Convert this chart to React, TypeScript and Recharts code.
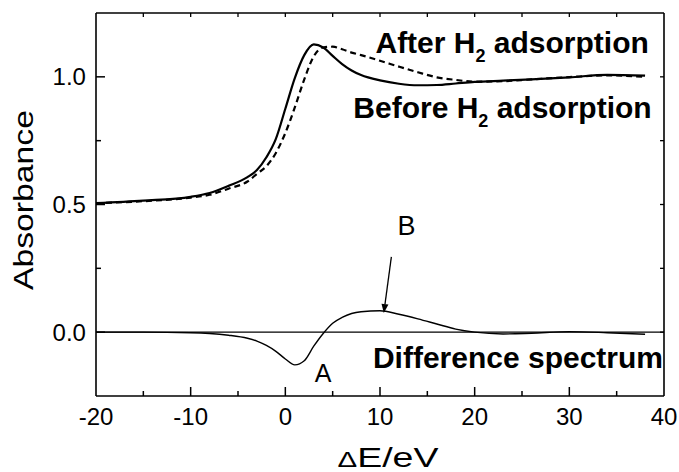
import React from 'react';
import { LineChart, Line, XAxis, YAxis, ReferenceLine, ReferenceDot } from 'recharts';

// XANES spectra, energy relative to edge (eV)
const energy = [-20, -15, -10, -8, -6, -4, -3, -2, -1, 0, 1, 2, 3, 4, 5, 6, 7, 8, 10, 12, 14, 16, 18, 20, 23, 26, 30, 34, 38];
const beforeH2 = [0.505, 0.515, 0.53, 0.545, 0.573, 0.607, 0.635, 0.685, 0.757, 0.875, 0.995, 1.085, 1.127, 1.115, 1.082, 1.05, 1.025, 1.007, 0.986, 0.973, 0.967, 0.968, 0.974, 0.98, 0.985, 0.99, 0.998, 1.008, 1.005];
const afterH2 = [0.505, 0.513, 0.527, 0.538, 0.562, 0.59, 0.62, 0.65, 0.702, 0.78, 0.88, 0.99, 1.08, 1.115, 1.118, 1.108, 1.095, 1.085, 1.063, 1.04, 1.018, 0.998, 0.988, 0.981, 0.983, 0.99, 0.999, 1.006, 1.0];
const diffSpectrum = [0, 0, -0.002, -0.005, -0.012, -0.024, -0.035, -0.052, -0.075, -0.105, -0.128, -0.112, -0.055, -0.005, 0.035, 0.058, 0.073, 0.08, 0.084, 0.07, 0.052, 0.032, 0.012, 0, -0.007, -0.004, 0.002, -0.002, -0.008];

const xTicks = [-20, -15, -10, -5, 0, 5, 10, 15, 20, 25, 30, 35, 40];
const yTicks = [-0.25, 0, 0.25, 0.5, 0.75, 1.0, 1.25];

const data = energy.map((e, i) => ({ e, before: beforeH2[i], after: afterH2[i], diff: diffSpectrum[i] }));

const FONT = '"Liberation Sans", Arial, Helvetica, sans-serif';

const isMajorX = (v: number) => v % 10 === 0;
const isMajorY = (v: number) => Math.abs(v * 2 - Math.round(v * 2)) < 1e-9;

const BottomTick = (props: any) => {
  const { x, y, payload } = props;
  const v = payload.value;
  const edge = v === -20 || v === 40;
  const len = isMajorX(v) ? 9 : 5;
  return (
    <g>
      {!edge && <line x1={x} y1={y} x2={x} y2={y - len} stroke="#000" strokeWidth={1.5} />}
      {isMajorX(v) && (
        <text x={x} y={y + 29} textAnchor="middle" fontSize={24} fontFamily={FONT} fill="#000">
          {v}
        </text>
      )}
    </g>
  );
};

const TopTick = (props: any) => {
  const { x, y, payload } = props;
  const v = payload.value;
  if (v === -20 || v === 40) return <g />;
  return <line x1={x} y1={y} x2={x} y2={y + 4} stroke="#000" strokeWidth={1.3} />;
};

const LeftTick = (props: any) => {
  const { x, y, payload } = props;
  const v = payload.value;
  const edge = v === -0.25 || v === 1.25;
  const len = isMajorY(v) ? 9 : 5;
  return (
    <g>
      {!edge && <line x1={x} y1={y} x2={x + len} y2={y} stroke="#000" strokeWidth={1.5} />}
      {isMajorY(v) && !edge && (
        <text x={x - 10} y={y} dy="0.36em" textAnchor="end" fontSize={24} fontFamily={FONT} fill="#000">
          {v.toFixed(1)}
        </text>
      )}
    </g>
  );
};

const RightTick = (props: any) => {
  const { x, y, payload } = props;
  const v = payload.value;
  if (v === -0.25 || v === 1.25) return <g />;
  return <line x1={x} y1={y} x2={x - 4} y2={y} stroke="#000" strokeWidth={1.3} />;
};

const BoldLabel = ({ cx, cy, pre, post }: any) => (
  <text x={cx} y={cy} textAnchor="end" fontSize={30} fontWeight="bold" fontFamily={FONT} fill="#000">
    {pre}
    <tspan fontSize={18} dy={9}>2</tspan>
    <tspan dy={-9}>{post}</tspan>
  </text>
);

const Arrow = (props: any) => {
  const { x1, y1, x2, y2 } = props;
  const ang = Math.atan2(y2 - y1, x2 - x1);
  const hl = 9;
  const hw = 3.5;
  const bx = x2 - hl * Math.cos(ang);
  const by = y2 - hl * Math.sin(ang);
  const px = -Math.sin(ang) * hw;
  const py = Math.cos(ang) * hw;
  return (
    <g>
      <line x1={x1} y1={y1} x2={bx} y2={by} stroke="#000" strokeWidth={1.3} />
      <path d={`M${x2},${y2} L${bx + px},${by + py} L${bx - px},${by - py} Z`} fill="#000" />
    </g>
  );
};

const App = () => {
  return (
    <div style={{ position: 'absolute', left: 0, top: 0, width: 679, height: 472, fontFamily: FONT }}>
      <LineChart width={679} height={472} data={data} margin={{ top: 12, right: 14, bottom: 16, left: 16 }}>
        <XAxis
          type="number"
          dataKey="e"
          domain={[-20, 40]}
          ticks={xTicks}
          interval={0}
          allowDataOverflow
          height={60}
          tickLine={false}
          tickSize={0.01}
          tickMargin={0.01}
          axisLine={{ stroke: '#000', strokeWidth: 1.6 }}
          tick={(p: any) => <BottomTick {...p} />}
        />
        <XAxis
          xAxisId="top"
          orientation="top"
          type="number"
          dataKey="e"
          domain={[-20, 40]}
          ticks={xTicks}
          interval={0}
          allowDataOverflow
          height={1}
          tickLine={false}
          tickSize={0.01}
          tickMargin={0.01}
          axisLine={{ stroke: '#000', strokeWidth: 1.6 }}
          tick={(p: any) => <TopTick {...p} />}
        />
        <YAxis
          type="number"
          domain={[-0.25, 1.25]}
          ticks={yTicks}
          interval={0}
          allowDataOverflow
          width={80}
          tickLine={false}
          tickSize={0.01}
          tickMargin={0.01}
          axisLine={{ stroke: '#000', strokeWidth: 1.6 }}
          tick={(p: any) => <LeftTick {...p} />}
        />
        <YAxis
          yAxisId="right"
          orientation="right"
          type="number"
          domain={[-0.25, 1.25]}
          ticks={yTicks}
          interval={0}
          allowDataOverflow
          width={1}
          tickLine={false}
          tickSize={0.01}
          tickMargin={0.01}
          axisLine={{ stroke: '#000', strokeWidth: 1.6 }}
          tick={(p: any) => <RightTick {...p} />}
        />
        <ReferenceLine y={0} stroke="#000" strokeWidth={1.4} />
        <Line type="monotone" dataKey="after" stroke="#000" strokeWidth={2.2} strokeDasharray="6 4" dot={false} isAnimationActive={false} />
        <Line type="monotone" dataKey="before" stroke="#000" strokeWidth={2.2} dot={false} isAnimationActive={false} />
        <Line type="monotone" dataKey="diff" stroke="#000" strokeWidth={1.4} dot={false} isAnimationActive={false} />
        <ReferenceLine
          segment={[{ x: 11.2, y: 0.295 }, { x: 10.4, y: 0.075 }]}
          shape={(p: any) => <Arrow {...p} />}
        />
        <ReferenceDot x={4} y={-0.196} r={0} shape={(p: any) => (
          <text x={p.cx} y={p.cy} textAnchor="middle" fontSize={25} fontFamily={FONT} fill="#000">A</text>
        )} />
        <ReferenceDot x={12.8} y={0.38} r={0} shape={(p: any) => (
          <text x={p.cx} y={p.cy} textAnchor="middle" fontSize={27} fontFamily={FONT} fill="#000">B</text>
        )} />
        <ReferenceDot x={38.4} y={1.093} r={0} shape={(p: any) => <BoldLabel cx={p.cx} cy={p.cy} pre="After H" post=" adsorption" />} />
        <ReferenceDot x={38.7} y={0.837} r={0} shape={(p: any) => <BoldLabel cx={p.cx} cy={p.cy} pre="Before H" post=" adsorption" />} />
        <ReferenceDot x={39.9} y={-0.142} r={0} shape={(p: any) => (
          <text x={p.cx} y={p.cy} textAnchor="end" fontSize={30} fontWeight="bold" fontFamily={FONT} fill="#000">Difference spectrum</text>
        )} />
      </LineChart>
      <svg width={679} height={472} style={{ position: 'absolute', left: 0, top: 0, pointerEvents: 'none' }}>
        <text x={388} y={467} textAnchor="middle" fontSize={28} fontFamily={FONT} fill="#000" textLength={101} lengthAdjust="spacingAndGlyphs">
          <tspan fontSize={22}>Δ</tspan>E/eV
        </text>
        <text x={33} y={200} transform="rotate(-90 33 200)" textAnchor="middle" fontSize={28} fontFamily={FONT} fill="#000" textLength={180} lengthAdjust="spacingAndGlyphs">
          Absorbance
        </text>
      </svg>
    </div>
  );
};

export default App;
